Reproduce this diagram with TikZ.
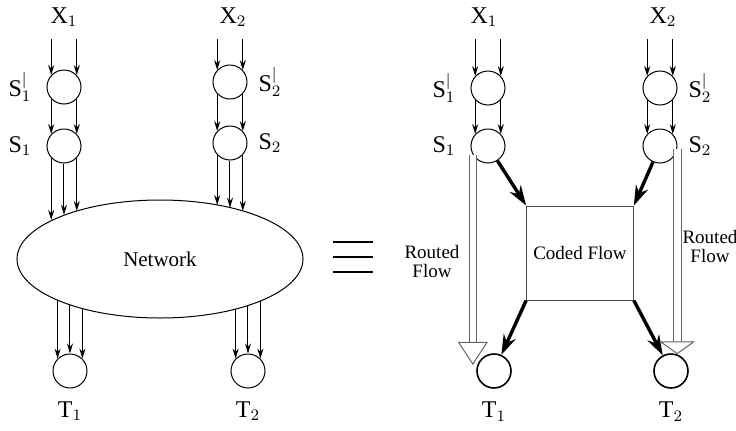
\documentclass[tikz,border=0pt]{standalone}
\usepackage{fontspec}
\setmainfont{Liberation Serif}
\usetikzlibrary{positioning, shapes.geometric, arrows.meta, calc}

\begin{document}
\begin{tikzpicture}[x=0.5pt, y=-0.5pt,
                knot/.style={draw=black, circle, minimum size=17pt, inner sep=0pt, line width=0.5pt},
                sink/.style={knot, line width=0.8pt},
                varlabel/.style={font=\fontsize{12}{14}\selectfont},
                flow/.style={line width=0.5pt, -{Stealth[length=5pt, width=3pt]}},
                coded/.style={line width=1.7pt, -{Stealth[length=10pt, width=6.5pt]}},
                routed/.style={draw=black!60, double, double distance=3.3pt, line width=0.5pt, -{Triangle[open, length=11.5pt, width=15pt, fill=white]}},
                flatrouted/.style={routed, -{Triangle[open, length=6.5pt, width=18pt, fill=white]}},
                network/.style={draw=black, ellipse, minimum width=143pt, minimum height=59pt, inner sep=0pt, outer sep=0pt, line width=0.5pt, font=\fontsize{10.5}{12}\selectfont},
                codebox/.style={draw=black!70, rectangle, minimum width=51pt, minimum height=47pt, line width=0.5pt, font=\fontsize{9.5}{11}\selectfont},
                flowlabel/.style={align=center, font=\fontsize{9.5}{9.5}\selectfont}
            ]

            \useasboundingbox (0,0) rectangle (736,430);
            \coordinate (top) at (0,39);

            % Knoten links
            \node[varlabel] (X1l) at (64,17) {$\mathrm{X}_1$};
            \node[varlabel] (X2l) at (233,17) {$\mathrm{X}_2$};
            \node[knot, label={[varlabel, label distance=4pt]left:$\mathrm{S}^{|}_{1}$}] (S1pl) at (64,87) {};
            \node[knot, label={[varlabel, label distance=4pt]left:$\mathrm{S}_{1}$}] (S1l) at (64,146) {};
            \node[knot, label={[varlabel, label distance=2pt]right:$\mathrm{S}^{|}_{2}$}] (S2pl) at (230,82) {};
            \node[knot, label={[varlabel, label distance=2pt]right:$\mathrm{S}_{2}$}] (S2l) at (230,143) {};
            \node[network] (net) at (160,259) {Network};
            \node[knot, label={[varlabel, label distance=3pt]below:$\mathrm{T}_{1}$}] (T1l) at (70,371) {};
            \node[knot, label={[varlabel, label distance=3pt]below:$\mathrm{T}_{2}$}] (T2l) at (248,371) {};

            % Kanten links
            \draw[flow] (top -| S1pl.137) -- (S1pl.137);
            \draw[flow] (top -| S1pl.43) -- (S1pl.43);
            \draw[flow] (S1pl.223) -- (S1l.137);
            \draw[flow] (S1pl.317) -- (S1l.43);
            \draw[flow] (S1l.223) -- (S1l.223 |- net.160);
            \draw[flow] (S1l.south) -- (S1l.south |- net.155);
            \draw[flow] (S1l.317) -- (S1l.317 |- net.150);
            \draw[flow] (top -| S2pl.137) -- (S2pl.137);
            \draw[flow] (top -| S2pl.43) -- (S2pl.43);
            \draw[flow] (S2pl.223) -- (S2l.137);
            \draw[flow] (S2pl.317) -- (S2l.43);
            \draw[flow] (S2l.223) -- (S2l.223 |- net.43);
            \draw[flow] (S2l.south) -- (S2l.south |- net.36);
            \draw[flow] (S2l.317) -- (S2l.317 |- net.30);
            \draw[flow] (T1l.135 |- net.202) -- (T1l.135);
            \draw[flow] (T1l.north |- net.207) -- (T1l.north);
            \draw[flow] (T1l.45 |- net.212) -- (T1l.45);
            \draw[flow] (T2l.135 |- net.327) -- (T2l.135);
            \draw[flow] (T2l.north |- net.332) -- (T2l.north);
            \draw[flow] (T2l.45 |- net.337) -- (T2l.45);

            % Gleichheitszeichen
            \draw[line width=0.7pt] (333,242) -- (373,242);
            \draw[line width=0.7pt] (333,257) -- (373,257);
            \draw[line width=0.7pt] (333,272) -- (373,272);

            % Knoten rechts
            \node[varlabel] (X1r) at (484,17) {$\mathrm{X}_1$};
            \node[varlabel] (X2r) at (663,17) {$\mathrm{X}_2$};
            \node[knot, label={[varlabel, label distance=4pt]left:$\mathrm{S}^{|}_{1}$}] (S1pr) at (488,88) {};
            \node[knot, label={[varlabel, label distance=4pt]left:$\mathrm{S}_{1}$}] (S1r) at (488,146) {};
            \node[knot, label={[varlabel, label distance=2pt]right:$\mathrm{S}^{|}_{2}$}] (S2pr) at (660,88) {};
            \node[knot, label={[varlabel, label distance=2pt]right:$\mathrm{S}_{2}$}] (S2r) at (660,146) {};
            \node[codebox] (box) at (580,253) {Coded Flow};
            \node[sink, label={[varlabel, label distance=3pt]below:$\mathrm{T}_{1}$}] (T1r) at (494,371) {};
            \node[sink, label={[varlabel, label distance=3pt]below:$\mathrm{T}_{2}$}] (T2r) at (671,371) {};
            \node[flowlabel] (rf1) at (432,261) {Routed\\Flow};
            \node[flowlabel] (rf2) at (710,246) {Routed\\Flow};

            % Kanten rechts
            \draw[flow] (top -| S1pr.137) -- (S1pr.137);
            \draw[flow] (top -| S1pr.43) -- (S1pr.43);
            \draw[flow] (S1pr.223) -- (S1r.137);
            \draw[flow] (S1pr.317) -- (S1r.43);
            \draw[flow] (top -| S2pr.137) -- (S2pr.137);
            \draw[flow] (top -| S2pr.43) -- (S2pr.43);
            \draw[flow] (S2pr.223) -- (S2r.137);
            \draw[flow] (S2pr.317) -- (S2r.43);
            \draw[coded] (S1r) -- (box.north west);
            \draw[coded] (S2r) -- (box.north east);
            \draw[coded] (box.south west) -- (T1r);
            \draw[coded] (box.south east) -- (T2r);
            \draw[routed] (S1r.210) -- (S1r.210 |- T1r.160);
            \draw[flatrouted] (S2r.350) -- (S2r.350 |- T2r.70);

        \end{tikzpicture}
\end{document}
